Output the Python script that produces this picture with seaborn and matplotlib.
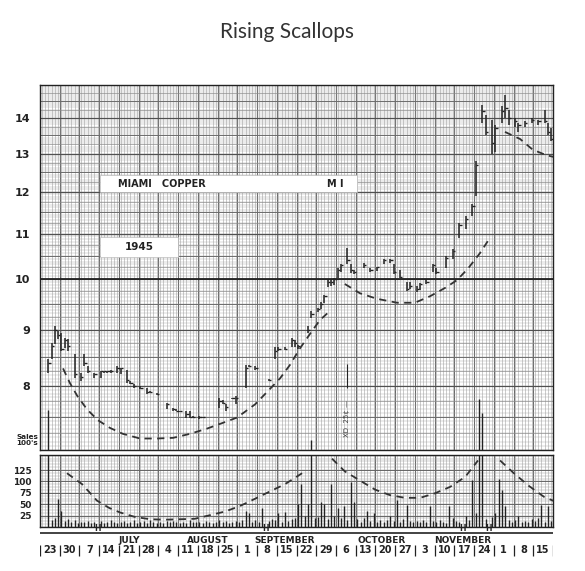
import numpy as np
import pandas as pd
import matplotlib
matplotlib.use("Agg")
import matplotlib.pyplot as plt
import matplotlib.transforms as mtransforms
from matplotlib.patches import Rectangle
import seaborn as sns

# ---------------- data ----------------
# trading-day slot (6 slots per week, week 0 = week ending June 23, 1945)
bar_slot = [2, 3, 4, 5, 6, 7, 8, 10, 12, 13, 14, 16, 18, 19, 20, 21, 23, 24, 26, 27,
            28, 30, 32, 33, 35, 38, 40, 41, 42, 44, 45, 46, 48, 49, 54, 55, 56, 58, 59, 62,
            63, 65, 69, 71, 72, 74, 76, 77, 78, 81, 82, 84, 85, 86, 87, 88, 89, 90, 91, 93,
            94, 95, 98, 100, 102, 104, 106, 107, 109, 111, 112, 114, 115, 117, 119, 120, 123, 125, 127, 129,
            131, 132, 134, 135, 137, 138, 140, 141, 142, 144, 145, 147, 149, 151, 153, 154, 155]
bar_high = [8.46, 8.76, 9.07, 8.97, 8.93, 8.84, 8.83, 8.55, 8.22, 8.55, 8.34, 8.22, 8.25, 8.25, 8.25, 8.27, 8.34, 8.30, 8.27, 8.08,
            8.03, 8.00, 7.97, 7.92, 7.88, 7.72, 7.64, 7.62, 7.60, 7.59, 7.60, 7.52, 7.51, 7.50, 7.80, 7.77, 7.70, 7.81, 7.83, 8.36,
            8.36, 8.34, 8.12, 8.68, 8.68, 8.68, 8.84, 8.80, 8.72, 9.07, 9.36, 9.42, 9.54, 9.68, 10.00, 10.00, 10.02, 10.24, 10.33, 10.67,
            10.33, 10.19, 10.35, 10.24, 10.26, 10.42, 10.42, 10.33, 10.19, 9.94, 9.95, 9.86, 9.92, 10.00, 10.33, 10.24, 10.50, 10.65, 11.24, 11.40,
            11.70, 12.80, 14.40, 14.10, 13.95, 13.80, 14.35, 14.70, 14.25, 14.00, 13.85, 13.90, 14.00, 13.95, 14.25, 13.85, 13.70]
bar_low = [8.22, 8.46, 8.74, 8.83, 8.60, 8.66, 8.60, 8.13, 8.08, 8.34, 8.22, 8.13, 8.13, 8.22, 8.22, 8.22, 8.22, 8.20, 8.05, 8.03,
           7.97, 7.95, 7.87, 7.88, 7.85, 7.62, 7.60, 7.59, 7.58, 7.48, 7.48, 7.49, 7.47, 7.48, 7.64, 7.70, 7.59, 7.78, 7.70, 7.97,
           8.32, 8.28, 8.08, 8.46, 8.60, 8.62, 8.68, 8.68, 8.64, 8.94, 9.22, 9.33, 9.39, 9.52, 9.84, 9.86, 9.88, 10.02, 10.15, 10.33,
           10.12, 10.10, 10.24, 10.15, 10.17, 10.33, 10.35, 10.10, 10.02, 9.75, 9.80, 9.74, 9.78, 9.90, 10.15, 10.10, 10.24, 10.44, 10.90, 11.10,
           11.40, 11.90, 13.85, 13.50, 13.00, 13.05, 13.85, 14.00, 13.80, 13.75, 13.60, 13.75, 13.85, 13.80, 13.85, 13.50, 13.35]
bar_close = [8.40, 8.70, 9.00, 8.90, 8.65, 8.80, 8.70, 8.20, 8.15, 8.40, 8.25, 8.20, 8.25, 8.25, 8.25, 8.25, 8.30, 8.30, 8.10, 8.05,
             8.00, 7.97, 7.90, 7.90, 7.87, 7.70, 7.62, 7.60, 7.60, 7.55, 7.50, 7.50, 7.50, 7.50, 7.75, 7.72, 7.65, 7.80, 7.80, 8.30,
             8.34, 8.30, 8.10, 8.60, 8.65, 8.65, 8.80, 8.75, 8.70, 9.00, 9.30, 9.40, 9.50, 9.65, 9.95, 9.95, 10.00, 10.20, 10.30, 10.40,
             10.20, 10.15, 10.30, 10.20, 10.25, 10.40, 10.40, 10.15, 10.05, 9.80, 9.85, 9.80, 9.90, 9.95, 10.30, 10.15, 10.45, 10.60, 11.20, 11.35,
             11.65, 12.70, 14.20, 13.60, 13.30, 13.70, 14.20, 14.30, 14.00, 13.90, 13.80, 13.85, 13.95, 13.90, 13.90, 13.60, 13.40]

# daily sales in hundreds, one row per week (6 trading-day slots)
volume = [0, 0, 257, 15, 20, 62,
          35, 14, 18, 10, 15, 9,
          12, 10, 14, 9, 11, 0,
          13, 8, 12, 15, 10, 9,
          11, 14, 9, 12, 16, 8,
          10, 13, 9, 15, 11, 8,
          12, 9, 14, 10, 13, 11,
          9, 12, 8, 15, 10, 12,
          11, 9, 13, 10, 8, 12,
          16, 10, 13, 9, 12, 14,
          11, 15, 35, 30, 12, 16,
          10, 42, 0, 13, 18, 15,
          30, 12, 34, 14, 18, 20,
          50, 94, 25, 50, 191, 20,
          22, 54, 50, 18, 94, 25,
          42, 20, 45, 15, 98, 54,
          18, 12, 20, 35, 14, 31,
          12, 15, 10, 16, 25, 14,
          60, 12, 18, 48, 13, 10,
          14, 11, 15, 12, 46, 13,
          10, 16, 12, 9, 46, 20,
          14, 12, 0, 25, 15, 104,
          30, 280, 250, 18, 0, 22,
          30, 105, 82, 45, 15, 12,
          16, 25, 12, 14, 10, 18,
          13, 20, 48, 12, 46, 14]
holiday_slot = [17, 68, 128, 136]
xd_slot = 93

# dashed scallops (slot, value)
p_scallop1_x = [6.5, 8.6, 10.8, 13.8, 17.1, 20.8, 24.7, 29.9, 35.1, 40.0, 45.1, 50.3, 55.2, 59.4, 64.9, 69.4, 72.5, 75.5, 78.5, 81.6, 84.6, 87.7]
p_scallop1_y = [8.30, 8.05, 7.84, 7.62, 7.45, 7.33, 7.24, 7.17, 7.17, 7.18, 7.24, 7.32, 7.41, 7.49, 7.70, 7.95, 8.13, 8.36, 8.65, 8.92, 9.18, 9.36]
p_scallop2_x = [92.2, 96.8, 101.9, 108.1, 113.5, 118.1, 122.7, 126.3, 129.6, 133.3, 135.7]
p_scallop2_y = [9.90, 9.71, 9.60, 9.52, 9.52, 9.65, 9.82, 9.98, 10.22, 10.56, 10.83]
p_scallop3_x = [140.9, 145.5, 149.4, 153.7, 156.1]
p_scallop3_y = [13.6, 13.4, 13.1, 12.95, 12.9]

v_scallop1_x = [7.7, 12.3, 16.8, 20.5, 23.8, 28.4, 33.0, 37.5, 42.1, 46.6, 51.2, 55.8, 60.3, 64.9, 69.4, 74.0, 79.2]
v_scallop1_y = [118, 94, 58, 42, 32, 22, 17, 16, 17, 18, 26, 34, 46, 62, 78, 94, 118]
v_scallop2_x = [88.3, 92.2, 96.8, 101.4, 105.9, 110.5, 115.1, 119.6, 124.2, 128.8, 132.7]
v_scallop2_y = [150, 122, 102, 82, 70, 64, 64, 74, 88, 110, 146]
v_scallop3_x = [139.4, 143.6, 148.2, 152.8, 156.1]
v_scallop3_y = [146, 118, 90, 66, 56]

week_labels = ["23", "30", "7", "14", "21", "28", "4", "11", "18", "25", "1", "8", "15",
               "22", "29", "6", "13", "20", "27", "3", "10", "17", "24", "1", "8", "15"]
month_labels = ["JULY", "AUGUST", "SEPTEMBER", "OCTOBER", "NOVEMBER"]
month_week = [4.5, 8.5, 12.4, 17.3, 21.4]

price_ticks = [8, 9, 10, 11, 12, 13, 14]
volume_ticks = [25, 50, 75, 100, 125]

# ---------------- styling ----------------
sns.set_theme(style="white")
plt.rcParams["font.family"] = ["DejaVu Sans"]

INK = "#222222"
GRID = "#a4a4a4"
GRID2 = "#6a6a6a"
SLOTS = 6
n_weeks = len(week_labels)
n_slots = n_weeks * SLOTS
XMIN, XMAX = -0.5, n_slots - 0.5
PMIN, PMAX = 7, 15
VMAX = 158

W, H = 585, 571
fig = plt.figure(figsize=(W / 100, H / 100), dpi=100)
fig.patch.set_facecolor("white")
L, Wd = 40 / W, 513 / W
ax_p = fig.add_axes([L, 1 - 450 / H, Wd, 365 / H])
ax_v = fig.add_axes([L, 1 - 527 / H, Wd, 72 / H])
ax_l = fig.add_axes([L, 1 - 564 / H, Wd, 37 / H])

slots = np.arange(n_slots)
week_edges = np.arange(n_weeks + 1) * SLOTS - 0.5

# --- price panel grid (graph paper)
ax_p.set_yscale("log")
ax_p.set_xlim(XMIN, XMAX)
ax_p.set_ylim(PMIN, PMAX)
ax_p.vlines(slots, PMIN, PMAX, color=GRID, lw=0.4, zorder=0)
ax_p.vlines(week_edges, PMIN, PMAX, color=GRID2, lw=0.75, zorder=0)
ax_p.hlines(np.arange(PMIN, PMAX + 0.001, 1 / 16), XMIN, XMAX, color=GRID, lw=0.3, zorder=0)
ax_p.hlines(np.arange(PMIN, PMAX + 0.001, 0.25), XMIN, XMAX, color="#8a8a8a", lw=0.45, zorder=0)
ax_p.hlines(np.arange(PMIN, PMAX + 0.001, 0.5), XMIN, XMAX, color=GRID2, lw=0.65, zorder=0)
ax_p.hlines(price_ticks, XMIN, XMAX, color="#505050", lw=0.85, zorder=0)
ax_p.axhline(10, color=INK, lw=1.3, zorder=1)

# price bars
ax_p.vlines(bar_slot, bar_low, bar_high, color=INK, lw=1.1, zorder=4)
ax_p.hlines(bar_close, np.array(bar_slot), np.array(bar_slot) + 0.7, color=INK, lw=1.0, zorder=4)

# scallops
dash = (0, (4, 3))
for xs, ys in [(p_scallop1_x, p_scallop1_y), (p_scallop2_x, p_scallop2_y), (p_scallop3_x, p_scallop3_y)]:
    sns.lineplot(x=xs, y=ys, ax=ax_p, color="#333333", lw=1.3, linestyle=dash,
                 estimator=None, sort=False, zorder=5)

ax_p.set_yticks(price_ticks)
ax_p.set_yticklabels([str(t) for t in price_ticks])
ax_p.yaxis.set_minor_locator(matplotlib.ticker.NullLocator())
ax_p.tick_params(axis="y", length=0, pad=7, labelsize=8, labelcolor=INK)
for lab in ax_p.get_yticklabels():
    lab.set_fontweight("bold")
ax_p.tick_params(axis="x", bottom=False, labelbottom=False)
for s in ax_p.spines.values():
    s.set_color(INK)
    s.set_linewidth(1.0)

# white label boxes
ax_p.add_patch(Rectangle((0.117, 0.707), 0.501, 0.047, transform=ax_p.transAxes,
                         facecolor="white", edgecolor="#bbbbbb", lw=0.5, zorder=6))
ax_p.text(0.152, 0.730, "MIAMI   COPPER", transform=ax_p.transAxes, fontsize=7,
          fontweight="bold", color=INK, va="center", ha="left", zorder=7)
ax_p.text(0.575, 0.730, "M I", transform=ax_p.transAxes, fontsize=7,
          fontweight="bold", color=INK, va="center", ha="center", zorder=7)
ax_p.add_patch(Rectangle((0.117, 0.529), 0.152, 0.055, transform=ax_p.transAxes,
                         facecolor="white", edgecolor="#bbbbbb", lw=0.5, zorder=6))
ax_p.text(0.193, 0.556, "1945", transform=ax_p.transAxes, fontsize=7.5,
          fontweight="bold", color=INK, va="center", ha="center", zorder=7)

# ex-dividend note
ax_p.vlines([xd_slot], 7.97, 8.37, color=INK, lw=0.8, zorder=4)
ax_p.text(xd_slot, 7.47, "XD  25¢ —", rotation=90, fontsize=5, color="#444444",
          ha="center", va="center", zorder=7)

fig.text(27 / W, 1 - 440 / H, "Sales\n100's", fontsize=5.2, fontweight="bold",
         color=INK, ha="center", va="center", linespacing=0.9)

# --- volume panel
ax_v.set_xlim(XMIN, XMAX)
ax_v.set_ylim(0, VMAX)
ax_v.vlines(slots, 0, VMAX, color=GRID, lw=0.4, zorder=0)
ax_v.vlines(week_edges, 0, VMAX, color=GRID2, lw=0.75, zorder=0)
ax_v.hlines(np.arange(0, VMAX, 6.25), XMIN, XMAX, color=GRID, lw=0.35, zorder=0)
ax_v.hlines(volume_ticks, XMIN, XMAX, color="#666666", lw=0.7, zorder=0)
vol = np.array(volume, dtype=float)
ax_v.vlines(slots, 0, np.minimum(vol, VMAX), color=INK, lw=1.0, zorder=3)
for xs, ys in [(v_scallop1_x, v_scallop1_y), (v_scallop2_x, v_scallop2_y), (v_scallop3_x, v_scallop3_y)]:
    sns.lineplot(x=xs, y=ys, ax=ax_v, color="#333333", lw=1.3, linestyle=dash,
                 estimator=None, sort=False, zorder=5)
ax_v.set_yticks(volume_ticks)
ax_v.set_yticklabels([str(t) for t in volume_ticks])
ax_v.tick_params(axis="y", length=0, pad=6, labelsize=6.5, labelcolor=INK)
for lab in ax_v.get_yticklabels():
    lab.set_fontweight("bold")
ax_v.tick_params(axis="x", bottom=False, labelbottom=False)
for s in ax_v.spines.values():
    s.set_color(INK)
    s.set_linewidth(1.0)

# volume overflow continues up into the price panel
vol_h_px = 72
price_h_px = 365
gap_px = 5
over = vol > VMAX
over_frac = ((vol[over] - VMAX) * vol_h_px / VMAX - gap_px) / price_h_px
blend = mtransforms.blended_transform_factory(ax_p.transData, ax_p.transAxes)
ax_p.vlines(slots[over], 0, over_frac, color=INK, lw=1.0, transform=blend, zorder=4)

# --- date strip
ax_l.set_xlim(XMIN, XMAX)
ax_l.set_ylim(0, 1)
ax_l.axis("off")
ax_l.hlines(0.83, XMIN, XMAX, color=INK, lw=1.2)
for hs in holiday_slot:
    ax_l.text(hs, 0.95, "H", fontsize=5.5, fontweight="bold", color=INK, ha="center", va="center")
for m, wk in zip(month_labels, month_week):
    ax_l.text(wk * SLOTS - 0.5, 0.63, m, fontsize=6.5, fontweight="bold", color=INK,
              ha="center", va="center")
for k, lab in enumerate(week_labels):
    ax_l.text(k * SLOTS + 2.5, 0.38, lab, fontsize=7, fontweight="bold", color=INK,
              ha="center", va="center")
ax_l.vlines(week_edges, 0.22, 0.52, color=INK, lw=0.9)

fig.text(0.49, 1 - 32 / H, "Rising Scallops", fontsize=15, family=["Lato", "DejaVu Sans"],
         color="#333333", ha="center", va="center")

fig.savefig("out.png", dpi=100, facecolor="white")
